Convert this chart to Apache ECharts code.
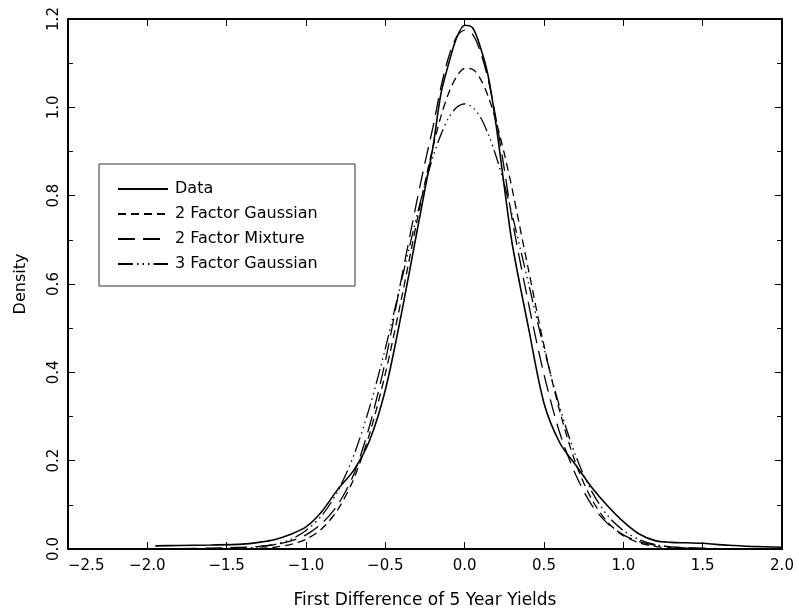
<!DOCTYPE html>
<html>
<head>
<meta charset="utf-8">
<script src="https://cdn.jsdelivr.net/npm/echarts@6/dist/echarts.min.js"></script>
<style>html,body{margin:0;padding:0;background:#fff;}#c{width:799px;height:615px;}</style>
</head>
<body>
<div id="c"></div>
<script>
const xValues = [-1.95,-1.8,-1.6,-1.4,-1.3,-1.2,-1.1,-1.0,-0.9,-0.8,-0.7,-0.6,-0.5,-0.4,-0.3,-0.25,-0.2,-0.15,-0.1,-0.05,0.0,0.05,0.1,0.15,0.2,0.25,0.3,0.4,0.5,0.6,0.7,0.8,0.9,1.0,1.1,1.2,1.3,1.4,1.5,1.6,1.7,1.8,2.0];
const dataDensity = [0.007,0.008,0.009,0.011,0.015,0.021,0.033,0.050,0.085,0.135,0.178,0.245,0.360,0.530,0.720,0.815,0.910,1.030,1.100,1.158,1.186,1.180,1.135,1.068,0.955,0.820,0.690,0.505,0.330,0.240,0.190,0.140,0.098,0.062,0.034,0.019,0.015,0.014,0.013,0.010,0.008,0.006,0.004];
const gauss2 = [0.000,0.000,0.0001,0.0006,0.0016,0.004,0.010,0.022,0.046,0.089,0.158,0.260,0.397,0.564,0.744,0.830,0.910,0.979,1.033,1.070,1.088,1.086,1.064,1.023,0.966,0.895,0.814,0.636,0.461,0.311,0.194,0.113,0.061,0.030,0.014,0.006,0.0024,0.001,0.0004,0.0001,0.000,0.000,0.000];
const mixture2 = [0.001,0.001,0.002,0.004,0.006,0.010,0.018,0.032,0.058,0.100,0.168,0.278,0.425,0.610,0.790,0.875,0.955,1.045,1.115,1.160,1.175,1.165,1.125,1.060,0.970,0.860,0.745,0.560,0.395,0.262,0.168,0.100,0.058,0.032,0.017,0.009,0.005,0.003,0.002,0.001,0.001,0.0005,0.0002];
const gauss3 = [0.000,0.000,0.0003,0.002,0.0046,0.010,0.021,0.042,0.076,0.131,0.211,0.320,0.454,0.605,0.756,0.826,0.887,0.938,0.977,1.000,1.008,1.000,0.977,0.938,0.887,0.826,0.756,0.605,0.454,0.320,0.211,0.131,0.076,0.042,0.021,0.010,0.0046,0.002,0.0003,0.000,0.000,0.000,0.000];
const seriesNames = ['Data','2 Factor Gaussian','2 Factor Mixture','3 Factor Gaussian'];
const xTicks = {min:-2.5, max:2.0, interval:0.5};
const yTicks = {min:0, max:1.2, interval:0.2};

const FONT = 'DejaVu Sans';
const fmt = v => v.toFixed(1).replace('-', '\u2212');
const pairs = ys => xValues.map((x,i)=>[x, ys[i]]);

const chart = echarts.init(document.getElementById('c'), null, {renderer:'canvas'});
const axisLine = {show:true, onZero:false, lineStyle:{color:'#000', width:2}};
const tick = {show:true, inside:true, length:7, lineStyle:{color:'#000', width:1}};
const minor = {show:true, splitNumber:2, length:5, lineStyle:{color:'#000', width:1}};
const styles = [
  {width:1.6, type:'solid'},
  {width:1.3, type:[8,5]},
  {width:1.3, type:[17,8]},
  {width:1.3, type:[15,4,1.5,4,1.5,4,1.5,4]}
];
const ys = [dataDensity, gauss2, mixture2, gauss3];
chart.setOption({
  animation:false,
  backgroundColor:'#fff',
  textStyle:{fontFamily:FONT},
  grid:{left:68, top:19, right:17, bottom:66, containLabel:false},
  xAxis:[
    {type:'value', position:'bottom', min:xTicks.min, max:xTicks.max, interval:xTicks.interval,
     axisLine, axisTick:tick, splitLine:{show:false},
     axisLabel:{formatter:fmt, fontSize:15, color:'#000', margin:10, fontFamily:FONT, alignMinLabel:'left'},
     name:'First Difference of 5 Year Yields', nameLocation:'middle', nameGap:43,
     nameTextStyle:{fontSize:17, color:'#000', fontFamily:FONT}},
    {type:'value', position:'top', min:xTicks.min, max:xTicks.max, interval:xTicks.interval,
     axisLine, axisTick:tick, axisLabel:{show:false}, splitLine:{show:false}}
  ],
  yAxis:[
    {type:'value', position:'left', min:yTicks.min, max:yTicks.max, interval:yTicks.interval,
     axisLine, axisTick:tick, minorTick:minor,
     splitLine:{show:false}, minorSplitLine:{show:false},
     axisLabel:{formatter:fmt, fontSize:15, color:'#000', rotate:90, margin:6, fontFamily:FONT},
     name:'Density', nameLocation:'middle', nameGap:39,
     nameTextStyle:{fontSize:16, color:'#000', fontFamily:FONT}},
    {type:'value', position:'right', min:yTicks.min, max:yTicks.max, interval:yTicks.interval,
     axisLine, axisTick:tick, minorTick:minor,
     splitLine:{show:false}, axisLabel:{show:false}}
  ],
  legend:{
    data:seriesNames, orient:'vertical', left:112, top:176,
    itemWidth:50, itemHeight:14, itemGap:9,
    itemStyle:{color:'rgba(0,0,0,0)', borderWidth:0, opacity:0},
    textStyle:{fontSize:16, lineHeight:14, color:'#000', fontFamily:FONT, padding:[0,0,0,2]},
    selectedMode:false
  },
  graphic:[{type:'rect', shape:{x:99, y:164, width:256, height:122}, style:{fill:'none', stroke:'#333', lineWidth:1}, silent:true}],
  series: seriesNames.map((n,i)=>({
    name:n, type:'line', data:pairs(ys[i]), showSymbol:false, symbol:'none',
    smooth:0.3, lineStyle:{color:'#000', width:styles[i].width, type:styles[i].type},
    itemStyle:{color:'#000'}, z:2, clip:true
  }))
});
</script>
</body>
</html>
